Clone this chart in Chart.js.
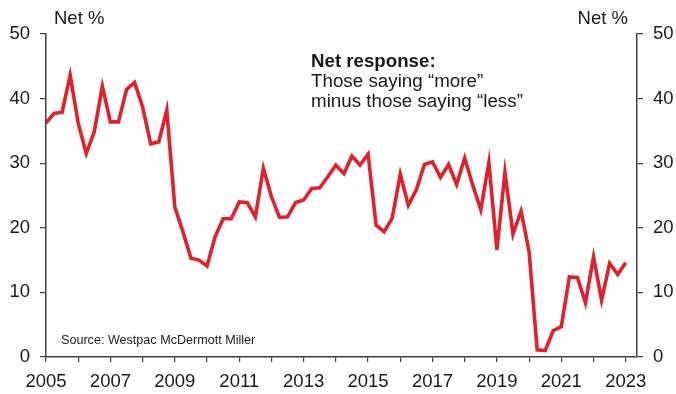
<!DOCTYPE html>
<html>
<head>
<meta charset="utf-8">
<script src="https://cdn.jsdelivr.net/npm/chart.js@4.4.0/dist/chart.umd.min.js"></script>
<style>
  html, body { margin: 0; padding: 0; background: #fff; }
  #wrap { width: 676px; height: 394px; }
</style>
</head>
<body>
<div id="wrap"><canvas id="chart-area" width="676" height="394"></canvas></div>
<script>
// quarterly series, first value = Q1 2005
var startYear = 2005;
var netResponse = [
  36.2, 37.7, 37.9, 43.6,
  36.2, 31.5, 34.9, 41.9,
  36.4, 36.4, 41.4, 42.5,
  38.7, 33.0, 33.3, 38.2,
  23.2, 19.4, 15.3, 15.0,
  14.1, 18.6, 21.4, 21.4,
  24.0, 23.9, 21.7, 29.2,
  24.8, 21.6, 21.7, 23.9,
  24.3, 26.1, 26.2, 27.9,
  29.7, 28.4, 31.1, 29.7,
  31.4, 20.4, 19.4, 21.5,
  28.3, 23.5, 25.9, 29.8,
  30.2, 27.8, 29.8, 26.7,
  30.8, 26.6, 22.8, 30.1,
  16.6, 28.6, 19.0, 22.6,
  16.3, 1.1, 1.0, 4.1,
  4.7, 12.4, 12.3, 8.4,
  15.5, 8.8, 14.5, 12.8,
  14.6
];
var yearTicks = [2005, 2006, 2007, 2008, 2009, 2010, 2011, 2012, 2013, 2014,
                 2015, 2016, 2017, 2018, 2019, 2020, 2021, 2022, 2023];
var yTicks = [0, 10, 20, 30, 40, 50];
var axisTitle = 'Net %';
var noteLines = ['Net response:', 'Those saying \u201cmore\u201d', 'minus those saying \u201cless\u201d'];
var sourceText = 'Source: Westpac McDermott Miller';

var FONT = "'Liberation Sans', Arial, sans-serif";
var INK = '#1a1a1a';
var AXIS = '#404040';
Chart.defaults.font.family = FONT;

var puntos = netResponse.map(function(v, i) {
  return { x: startYear + i / 4, y: v };
});

function yAxis(pos, ancho) {
  return {
    position: pos,
    min: 0,
    max: 50,
    afterBuildTicks: function(scale) {
      scale.ticks = yTicks.map(function(v) { return { value: v }; });
    },
    afterFit: function(scale) { scale.width = ancho; },
    ticks: { color: INK, font: { size: 18.5 }, padding: 10 },
    grid: { drawOnChartArea: false, tickLength: 6, color: AXIS, lineWidth: 1.2 },
    border: { display: true, color: AXIS, width: 1.5 }
  };
}

var textos = {
  id: 'textos',
  afterDraw: function(chart) {
    var ctx = chart.ctx;
    ctx.save();
    ctx.fillStyle = INK;
    ctx.textBaseline = 'alphabetic';
    ctx.font = '18.5px ' + FONT;
    ctx.textAlign = 'left';
    ctx.fillText(axisTitle, 54, 24);
    ctx.textAlign = 'right';
    ctx.fillText(axisTitle, 628, 24);
    ctx.textAlign = 'left';
    ctx.font = 'bold 18.7px ' + FONT;
    ctx.fillText(noteLines[0], 311, 67);
    ctx.font = '18.8px ' + FONT;
    ctx.fillText(noteLines[1], 311, 87);
    ctx.fillText(noteLines[2], 311, 107);
    ctx.font = '12.6px ' + FONT;
    ctx.fillText(sourceText, 61, 344);
    ctx.restore();
  }
};

var config = {
  type: 'line',
  data: {
    datasets: [{
      data: puntos,
      borderColor: '#E0202B',
      borderWidth: 3.6,
      pointRadius: 0,
      tension: 0,
      fill: false
    }]
  },
  options: {
    responsive: false,
    animation: false,
    layout: { padding: { top: 34, left: 0, right: 0, bottom: 0 } },
    plugins: { legend: { display: false }, tooltip: { enabled: false } },
    scales: {
      x: {
        type: 'linear',
        position: 'bottom',
        min: 2005,
        max: 2023.35,
        afterBuildTicks: function(scale) {
          scale.ticks = yearTicks.map(function(v) { return { value: v }; });
        },
        afterFit: function(scale) { scale.height = 37; },
        ticks: {
          color: INK,
          font: { size: 18.5 },
          padding: 9,
          autoSkip: false,
          maxRotation: 0,
          callback: function(v) { return v % 2 === 1 ? String(v) : ''; }
        },
        grid: { drawOnChartArea: false, tickLength: 5, color: AXIS, lineWidth: 1.2 },
        border: { display: true, color: AXIS, width: 1.5 }
      },
      y: yAxis('left', 46),
      y2: yAxis('right', 39)
    }
  },
  plugins: [textos]
};

var ctx = document.getElementById('chart-area').getContext('2d');
window.myLine = new Chart(ctx, config);
</script>
</body>
</html>
